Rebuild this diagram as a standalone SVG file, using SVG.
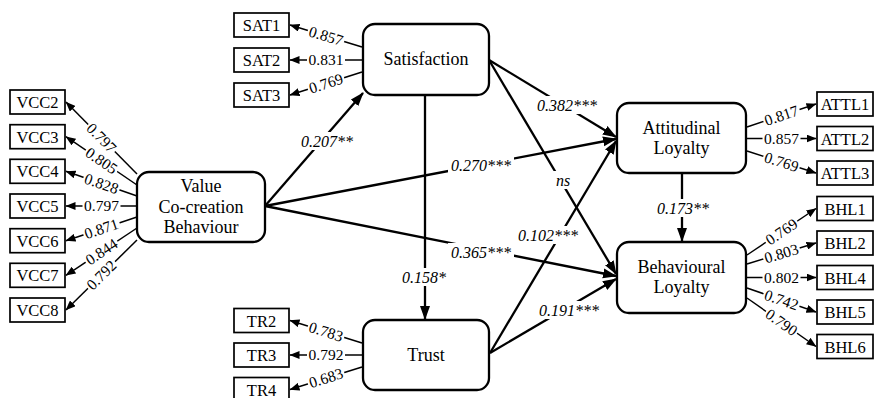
<svg xmlns="http://www.w3.org/2000/svg" width="876" height="398" viewBox="0 0 876 398">
<defs>
<style>
text{font-family:"Liberation Serif","DejaVu Serif",serif;fill:#000}
.node rect{fill:#fff;stroke:#000;stroke-width:2.3}
.ind rect{fill:#fff;stroke:#000;stroke-width:1.7}
.nt{font-size:18px;text-anchor:middle}
.it{font-size:16.5px;text-anchor:middle}
.ld{stroke:#000;stroke-width:1.5;marker-end:url(#ah);fill:none}
.pth{stroke:#000;stroke-width:2.3;marker-end:url(#AH);fill:none}
.lb rect,.pl rect{fill:#fff}
.lb text{font-size:15.5px;text-anchor:middle}
.pl text{font-size:16px;font-style:italic;text-anchor:middle}
</style>
<marker id="AH" markerUnits="userSpaceOnUse" markerWidth="15" markerHeight="11" refX="13" refY="5.5" orient="auto"><path d="M0,0.5 L14,5.5 L0,10.5 z" fill="#000"/></marker>
<marker id="ah" markerUnits="userSpaceOnUse" markerWidth="11" markerHeight="8" refX="9.5" refY="4" orient="auto"><path d="M0,0 L10,4 L0,8 z" fill="#000"/></marker>
</defs>
<rect width="876" height="398" fill="#fff"/>

<g id="connectors">
<!-- loadings VCC -->
<line class="ld" x1="137" y1="174" x2="66" y2="102"/>
<line class="ld" x1="137" y1="185" x2="66" y2="136.7"/>
<line class="ld" x1="137" y1="196" x2="66" y2="171.3"/>
<line class="ld" x1="137" y1="206" x2="66" y2="206"/>
<line class="ld" x1="137" y1="217" x2="66" y2="240.7"/>
<line class="ld" x1="137" y1="228" x2="66" y2="275.3"/>
<line class="ld" x1="137" y1="240" x2="66" y2="310"/>
<!-- SAT -->
<line class="ld" x1="362" y1="47" x2="290" y2="25"/>
<line class="ld" x1="362" y1="60" x2="290" y2="60"/>
<line class="ld" x1="362" y1="72" x2="290" y2="95"/>
<!-- TR -->
<line class="ld" x1="362" y1="343" x2="290" y2="320.5"/>
<line class="ld" x1="362" y1="355" x2="290" y2="355"/>
<line class="ld" x1="362" y1="367" x2="290" y2="389.5"/>
<!-- ATTL -->
<line class="ld" x1="747" y1="127" x2="816" y2="104"/>
<line class="ld" x1="747" y1="138.5" x2="816" y2="138.5"/>
<line class="ld" x1="747" y1="151" x2="816" y2="173"/>
<!-- BHL -->
<line class="ld" x1="747" y1="255" x2="816" y2="208.5"/>
<line class="ld" x1="747" y1="264" x2="816" y2="243"/>
<line class="ld" x1="747" y1="277.5" x2="816" y2="277.5"/>
<line class="ld" x1="747" y1="288" x2="816" y2="312"/>
<line class="ld" x1="747" y1="298" x2="816" y2="346.5"/>

<!-- structural paths -->
<line class="pth" x1="265" y1="206" x2="363" y2="93"/>
<line class="pth" x1="265" y1="206" x2="616" y2="139"/>
<line class="pth" x1="265" y1="206" x2="616" y2="276"/>
<line class="pth" x1="489" y1="60" x2="616" y2="137"/>
<line class="pth" x1="489" y1="60" x2="616" y2="274"/>
<line class="pth" x1="425" y1="95" x2="425" y2="319"/>
<line class="pth" x1="490" y1="353" x2="616" y2="141"/>
<line class="pth" x1="490" y1="353" x2="616" y2="279"/>
<line class="pth" x1="682" y1="173" x2="682" y2="241"/>

<!-- loading labels -->
<g class="lb">
<g transform="translate(101.5,138) rotate(45.4)"><rect x="-19" y="-6.5" width="38" height="13"/><text y="5.2">0.797</text></g>
<g transform="translate(101.5,160.8) rotate(34.2)"><rect x="-19" y="-6.5" width="38" height="13"/><text y="5.2">0.805</text></g>
<g transform="translate(101.5,183.7) rotate(19.2)"><rect x="-19" y="-6.5" width="38" height="13"/><text y="5.2">0.828</text></g>
<g transform="translate(101.5,206)"><rect x="-19" y="-6.5" width="38" height="13"/><text y="5.2">0.797</text></g>
<g transform="translate(101.5,228.8) rotate(-18.5)"><rect x="-19" y="-6.5" width="38" height="13"/><text y="5.2">0.871</text></g>
<g transform="translate(101.5,251.7) rotate(-33.7)"><rect x="-19" y="-6.5" width="38" height="13"/><text y="5.2">0.844</text></g>
<g transform="translate(101.5,275) rotate(-44.6)"><rect x="-19" y="-6.5" width="38" height="13"/><text y="5.2">0.792</text></g>

<g transform="translate(326,36) rotate(17)"><rect x="-19" y="-6.5" width="38" height="13"/><text y="5.2">0.857</text></g>
<g transform="translate(326,60)"><rect x="-19" y="-6.5" width="38" height="13"/><text y="5.2">0.831</text></g>
<g transform="translate(326,83.5) rotate(-17.7)"><rect x="-19" y="-6.5" width="38" height="13"/><text y="5.2">0.769</text></g>

<g transform="translate(326,331.8) rotate(17.4)"><rect x="-19" y="-6.5" width="38" height="13"/><text y="5.2">0.783</text></g>
<g transform="translate(326,355)"><rect x="-19" y="-6.5" width="38" height="13"/><text y="5.2">0.792</text></g>
<g transform="translate(326,378) rotate(-17.4)"><rect x="-19" y="-6.5" width="38" height="13"/><text y="5.2">0.683</text></g>

<g transform="translate(781.5,115.5) rotate(-18.4)"><rect x="-19" y="-6.5" width="38" height="13"/><text y="5.2">0.817</text></g>
<g transform="translate(781.5,138.5)"><rect x="-19" y="-6.5" width="38" height="13"/><text y="5.2">0.857</text></g>
<g transform="translate(781.5,162) rotate(17.7)"><rect x="-19" y="-6.5" width="38" height="13"/><text y="5.2">0.769</text></g>

<g transform="translate(781.5,231.8) rotate(-34)"><rect x="-19" y="-6.5" width="38" height="13"/><text y="5.2">0.769</text></g>
<g transform="translate(781.5,253.5) rotate(-16.9)"><rect x="-19" y="-6.5" width="38" height="13"/><text y="5.2">0.803</text></g>
<g transform="translate(781.5,277.5)"><rect x="-19" y="-6.5" width="38" height="13"/><text y="5.2">0.802</text></g>
<g transform="translate(781.5,300) rotate(19.2)"><rect x="-19" y="-6.5" width="38" height="13"/><text y="5.2">0.742</text></g>
<g transform="translate(781.5,322.3) rotate(35.1)"><rect x="-19" y="-6.5" width="38" height="13"/><text y="5.2">0.790</text></g>
</g>

<!-- path labels -->
<g class="pl">
<g transform="translate(327,141)"><rect x="-28" y="-9" width="56" height="18"/><text y="5.5">0.207**</text></g>
<g transform="translate(481,165)"><rect x="-33" y="-9" width="66" height="18"/><text y="5.5">0.270***</text></g>
<g transform="translate(481,252)"><rect x="-33" y="-9" width="66" height="18"/><text y="5.5">0.365***</text></g>
<g transform="translate(567,105)"><rect x="-33" y="-9" width="66" height="18"/><text y="5.5">0.382***</text></g>
<g transform="translate(563,180)"><rect x="-11" y="-9" width="22" height="18"/><text y="5.5">ns</text></g>
<g transform="translate(548,235)"><rect x="-33" y="-9" width="66" height="18"/><text y="5.5">0.102***</text></g>
<g transform="translate(569,310)"><rect x="-33" y="-9" width="66" height="18"/><text y="5.5">0.191***</text></g>
<g transform="translate(424,277)"><rect x="-23" y="-9" width="46" height="18"/><text y="5.5">0.158*</text></g>
<g transform="translate(683,208)"><rect x="-28" y="-9" width="56" height="18"/><text y="5.5">0.173**</text></g>
</g>
</g>

<!-- latent nodes -->
<g id="vcc" class="node"><rect x="137" y="172" width="128" height="70" rx="12"/>
<text class="nt" x="201" y="192">Value</text><text class="nt" x="201" y="213">Co-creation</text><text class="nt" x="201" y="233">Behaviour</text></g>
<g id="sat" class="node"><rect x="363" y="24" width="126" height="71" rx="12"/><text class="nt" x="426" y="65">Satisfaction</text></g>
<g id="trust" class="node"><rect x="363" y="320" width="126" height="70" rx="12"/><text class="nt" x="426" y="361">Trust</text></g>
<g id="att" class="node"><rect x="617" y="103" width="129" height="70" rx="12"/><text class="nt" x="681.5" y="134">Attitudinal</text><text class="nt" x="681.5" y="154">Loyalty</text></g>
<g id="beh" class="node"><rect x="617" y="242" width="129" height="71" rx="12"/><text class="nt" x="681.5" y="273">Behavioural</text><text class="nt" x="681.5" y="293">Loyalty</text></g>

<!-- indicators -->
<g class="ind">
<g id="VCC2"><rect x="10" y="90" width="55" height="24"/><text class="it" x="37.5" y="108">VCC2</text></g>
<g id="VCC3"><rect x="10" y="124.7" width="55" height="24"/><text class="it" x="37.5" y="142.7">VCC3</text></g>
<g id="VCC4"><rect x="10" y="159.3" width="55" height="24"/><text class="it" x="37.5" y="177.3">VCC4</text></g>
<g id="VCC5"><rect x="10" y="194" width="55" height="24"/><text class="it" x="37.5" y="212">VCC5</text></g>
<g id="VCC6"><rect x="10" y="228.7" width="55" height="24"/><text class="it" x="37.5" y="246.7">VCC6</text></g>
<g id="VCC7"><rect x="10" y="263.3" width="55" height="24"/><text class="it" x="37.5" y="281.3">VCC7</text></g>
<g id="VCC8"><rect x="10" y="298" width="55" height="24"/><text class="it" x="37.5" y="316">VCC8</text></g>
<g id="SAT1"><rect x="234" y="13" width="55" height="24"/><text class="it" x="261.5" y="31">SAT1</text></g>
<g id="SAT2"><rect x="234" y="48" width="55" height="24"/><text class="it" x="261.5" y="66">SAT2</text></g>
<g id="SAT3"><rect x="234" y="83" width="55" height="24"/><text class="it" x="261.5" y="101">SAT3</text></g>
<g id="TR2"><rect x="234" y="308.5" width="55" height="24"/><text class="it" x="261.5" y="326.5">TR2</text></g>
<g id="TR3"><rect x="234" y="343" width="55" height="24"/><text class="it" x="261.5" y="361">TR3</text></g>
<g id="TR4"><rect x="234" y="377.5" width="55" height="24"/><text class="it" x="261.5" y="395.5">TR4</text></g>
<g id="ATTL1"><rect x="817" y="92" width="56" height="24"/><text class="it" x="845" y="110">ATTL1</text></g>
<g id="ATTL2"><rect x="817" y="126.5" width="56" height="24"/><text class="it" x="845" y="144.5">ATTL2</text></g>
<g id="ATTL3"><rect x="817" y="161" width="56" height="24"/><text class="it" x="845" y="179">ATTL3</text></g>
<g id="BHL1"><rect x="817" y="196.5" width="56" height="24"/><text class="it" x="845" y="214.5">BHL1</text></g>
<g id="BHL2"><rect x="817" y="231" width="56" height="24"/><text class="it" x="845" y="249">BHL2</text></g>
<g id="BHL4"><rect x="817" y="265.5" width="56" height="24"/><text class="it" x="845" y="283.5">BHL4</text></g>
<g id="BHL5"><rect x="817" y="300" width="56" height="24"/><text class="it" x="845" y="318">BHL5</text></g>
<g id="BHL6"><rect x="817" y="334.5" width="56" height="24"/><text class="it" x="845" y="352.5">BHL6</text></g>
</g>
</svg>
